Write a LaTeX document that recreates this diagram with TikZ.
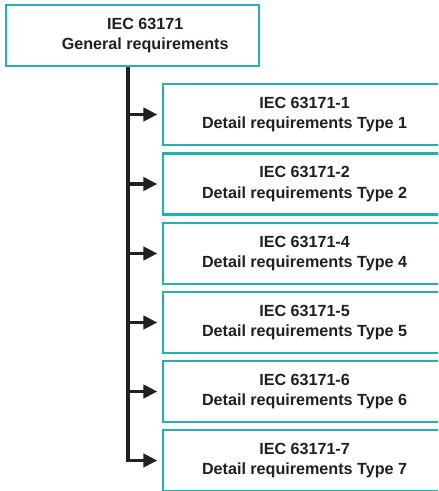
\documentclass[tikz,border=0pt]{standalone}
\usepackage{fontspec}
\setmainfont{Liberation Sans}
\usetikzlibrary{arrows.meta}
\definecolor{teal1}{HTML}{22B1AE}
\definecolor{ink}{HTML}{231F20}
\tikzset{
  box/.style={draw=teal1, line width=1.6pt, fill=white, inner sep=0pt,
    align=center, text=ink, font=\bfseries\fontsize{12.1}{15.5}\selectfont},
  topbox/.style={box, minimum width=253*0.75pt, minimum height=61*0.75pt},
  childbox/.style={box, minimum width=283*0.75pt, minimum height=61*0.75pt, anchor=west},
  link/.style={draw=ink, line width=2.5pt},
  arr/.style={link, -{Triangle[length=10.5pt,width=10pt]}, shorten >=3.5pt}
}
\begin{document}
\begin{tikzpicture}[x=0.75pt,y=-0.75pt]
\clip (0,0) rectangle (438,491);
\useasboundingbox (0,0) rectangle (438,491);
\node[topbox] (top) at (132.5,35.5) {\hspace*{19pt}IEC 63171\\\hspace*{19pt}General requirements};
\node[childbox] (c1) at (162,114.5) {IEC 63171-1\\Detail requirements Type 1};
\node[childbox] (c2) at (162,184) {IEC 63171-2\\Detail requirements Type 2};
\node[childbox] (c4) at (162,253.5) {IEC 63171-4\\Detail requirements Type 4};
\node[childbox] (c5) at (162,322.5) {IEC 63171-5\\Detail requirements Type 5};
\node[childbox] (c6) at (162,391.5) {IEC 63171-6\\Detail requirements Type 6};
\node[childbox] (c7) at (162,460.5) {IEC 63171-7\\Detail requirements Type 7};
\coordinate (s0) at (128,66);
\draw[arr] (top.south -| s0) -- (s0 |- c7.west) -- (c7.west);
\foreach \n in {c1,c2,c4,c5,c6}
  \draw[arr] (s0 |- \n.west) -- (\n.west);
\end{tikzpicture}
\end{document}
